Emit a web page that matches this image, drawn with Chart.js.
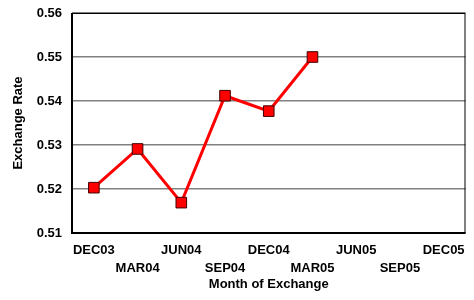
<!DOCTYPE html>
<html>
<head>
<meta charset="utf-8">
<script src="https://cdn.jsdelivr.net/npm/chart.js@4"></script>
<style>
  html, body { margin: 0; padding: 0; background: #fff; }
  #wrap { width: 474px; height: 300px; }
</style>
</head>
<body>
<div id="wrap"><canvas id="rateChart"></canvas></div>
<script>
// Months on the x axis (every other label drops to a second row)
const months = ['DEC03', 'MAR04', 'JUN04', 'SEP04', 'DEC04', 'MAR05', 'JUN05', 'SEP05', 'DEC05'];
// Exchange rate (no data after MAR05)
const rates = [0.5203, 0.5291, 0.5169, 0.5412, 0.5377, 0.5500, null, null, null];
// Y axis range
const yMin = 0.51;
const yMax = 0.56;
const yStep = 0.01;

// stagger the category labels like the original
const staggered = months.map((m, i) => (i % 2 === 0 ? [m] : ['', m]));

// black frame round the plot area
const frame = {
    id: 'frame',
    afterDraw(chart) {
        const a = chart.chartArea;
        const ctx = chart.ctx;
        ctx.save();
        ctx.strokeStyle = '#000';
        ctx.lineWidth = 1;
        ctx.strokeRect(a.left + 0.5, a.top + 0.5, a.right - a.left - 1, a.bottom - a.top - 1);
        ctx.lineWidth = 2;
        ctx.beginPath();
        ctx.moveTo(a.left, a.top);
        ctx.lineTo(a.left, a.bottom);
        ctx.lineTo(a.right, a.bottom);
        ctx.stroke();
        ctx.restore();
    }
};

const font = { family: 'Liberation Sans, Arial, sans-serif', weight: 'bold' };

new Chart(document.getElementById('rateChart'), {
    type: 'line',
    data: {
        labels: staggered,
        datasets: [{
            label: 'Exchange Rate',
            data: rates,
            borderColor: '#ff0000',
            borderWidth: 3,
            backgroundColor: '#ff0000',
            pointStyle: 'rect',
            pointRadius: 7.5,
            pointHoverRadius: 7.5,
            pointBackgroundColor: '#ff0000',
            pointBorderColor: '#400000',
            pointBorderWidth: 1,
            tension: 0,
            spanGaps: false
        }]
    },
    options: {
        responsive: true,
        maintainAspectRatio: false,
        animation: false,
        layout: { padding: { top: 13, right: 7, left: 0, bottom: 0 } },
        plugins: {
            legend: { display: false },
            tooltip: { enabled: false }
        },
        scales: {
            x: {
                offset: true,
                grid: { display: false, drawTicks: true, tickLength: 8, tickColor: 'transparent' },
                border: { display: false },
                ticks: {
                    autoSkip: false,
                    maxRotation: 0,
                    padding: 0,
                    color: '#000',
                    font: { ...font, size: 13, lineHeight: 1.4 }
                },
                title: {
                    display: true,
                    text: 'Month of Exchange',
                    color: '#000',
                    font: { ...font, size: 13 },
                    padding: { top: 4, bottom: 8 }
                },
                afterFit(scale) { scale.height = 67; }
            },
            y: {
                min: yMin,
                max: yMax,
                grid: {
                    color: '#808080',
                    lineWidth: 1.5,
                    drawTicks: true,
                    tickLength: 9,
                    tickColor: 'transparent'
                },
                border: { display: false },
                ticks: {
                    stepSize: yStep,
                    padding: 1,
                    color: '#000',
                    font: { ...font, size: 13 },
                    callback: v => v.toFixed(2)
                },
                title: {
                    display: true,
                    text: 'Exchange Rate',
                    color: '#000',
                    font: { ...font, size: 13 },
                    padding: { top: 11, bottom: 4 }
                },
                afterFit(scale) { scale.width = 72; }
            }
        }
    },
    plugins: [frame]
});
</script>
</body>
</html>
